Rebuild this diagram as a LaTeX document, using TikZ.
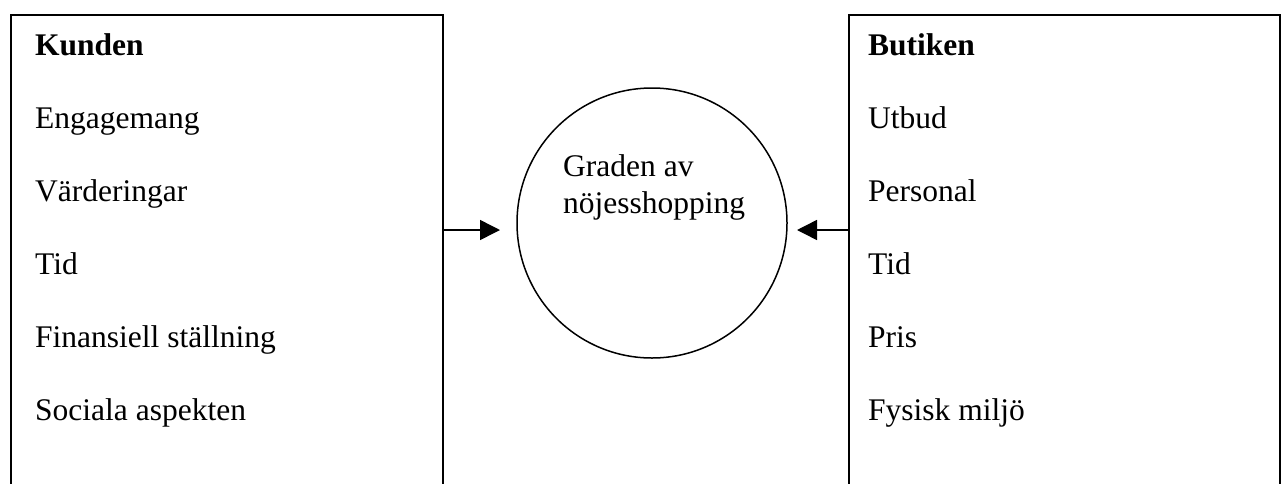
\documentclass[tikz,border=0pt]{standalone}
\usepackage{fontspec}
\setmainfont{Liberation Serif}
\usetikzlibrary{arrows.meta}
\begin{document}
\begin{tikzpicture}[x=1pt,y=-1pt,
  boxframe/.style={draw, line width=2pt, minimum width=432pt, minimum height=540pt, anchor=north west, inner sep=0pt},
  item/.style={anchor=base west, inner sep=0pt, font=\fontsize{31.5}{37}\selectfont},
  head/.style={item, font=\fontsize{31.5}{37}\selectfont\bfseries},
  arr/.style={line width=1.5pt, -{Triangle[length=20pt,width=20pt]}}]
\useasboundingbox (0,0) rectangle (1282,483);
\fill[white] (0,0) rectangle (1282,483);
% boxes (open at bottom edge of picture)
\node[boxframe] (kbox) at (10,14) {};
\node[boxframe, minimum width=431pt] (bbox) at (848,14) {};
% circle
\node[draw, circle, line width=1.5pt, minimum size=270pt, inner sep=0pt] (circ) at (652,223) {};
\node[anchor=base west, inner sep=0pt, align=left, font=\fontsize{31.5}{37}\selectfont] (ctext) at (563,213) {Graden av\\nöjesshopping};
% left texts
\node[head] (k0) at (35,55) {Kunden};
\node[item] (k1) at (35,128) {Engagemang};
\node[item] (k2) at (35,201) {Värderingar};
\node[item] (k3) at (35,274) {Tid};
\node[item] (k4) at (35,347) {Finansiell ställning};
\node[item] (k5) at (35,420) {Sociala aspekten};
% right texts
\node[head] (b0) at (868,55) {Butiken};
\node[item] (b1) at (868,128) {Utbud};
\node[item] (b2) at (868,201) {Personal};
\node[item] (b3) at (868,274) {Tid};
\node[item] (b4) at (868,347) {Pris};
\node[item] (b5) at (868,420) {Fysisk miljö};
% arrows
\coordinate (ltip) at (500,230);
\coordinate (rtip) at (797,230);
\draw[arr] (kbox.east |- ltip) -- (ltip);
\draw[arr] (bbox.west |- rtip) -- (rtip);
\end{tikzpicture}
\end{document}
